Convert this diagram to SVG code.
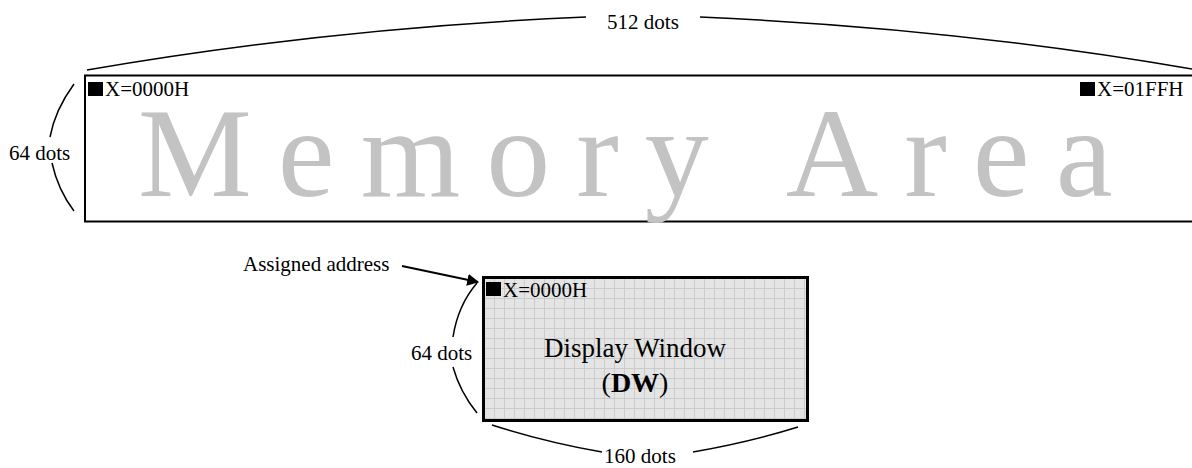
<svg xmlns="http://www.w3.org/2000/svg" width="1192" height="468" viewBox="0 0 1192 468">
<style>
.lbl{font-family:"Liberation Serif","Times New Roman",serif;font-size:21px;fill:#000}
.br{fill:none;stroke:#000;stroke-width:1.5}
</style>
<defs>
<pattern id="grid" x="484" y="278" width="10" height="10" patternUnits="userSpaceOnUse">
<rect width="10" height="10" fill="#e4e4e4"/>
<path d="M0 0.5H10M0.5 0V10" stroke="#cbcbcb" stroke-width="1" fill="none"/>
</pattern>
<marker id="ah" viewBox="0 0 10 10" refX="9" refY="5" markerWidth="6" markerHeight="6" orient="auto" markerUnits="strokeWidth">
<path d="M0 0L10 5L0 10z" fill="#000"/>
</marker>
</defs>
<rect width="1192" height="468" fill="#fff"/>
<g id="memory-area">
<rect x="85" y="75.5" width="1130" height="146" fill="#fff" stroke="#000" stroke-width="2"/>
<text x="138" y="196" font-family="Liberation Serif,'Times New Roman',serif" font-size="128" fill="#c3c3c3" letter-spacing="26">Memory Area</text>
<rect x="88" y="82" width="15" height="14" fill="#000"/>
<text class="lbl" x="105" y="96">X=0000H</text>
<rect x="1080" y="82" width="15" height="14" fill="#000"/>
<text class="lbl" x="1097" y="96">X=01FFH</text>
</g>
<g id="display-window">
<rect x="483.5" y="277.5" width="324" height="143" fill="url(#grid)" stroke="#000" stroke-width="3"/>
<rect x="486" y="282" width="15" height="14" fill="#000"/>
<text class="lbl" x="503" y="297">X=0000H</text>
<text x="635" y="357" text-anchor="middle" font-family="Liberation Serif,'Times New Roman',serif" font-size="27">Display Window</text>
<text x="635" y="392" text-anchor="middle" font-family="Liberation Serif,'Times New Roman',serif" font-size="28">(<tspan font-weight="bold">DW</tspan>)</text>
</g>
<g id="labels">
<text class="lbl" x="643" y="29" text-anchor="middle">512 dots</text>
<text class="lbl" x="9" y="160">64 dots</text>
<text class="lbl" x="411" y="360">64 dots</text>
<text class="lbl" x="640" y="463" text-anchor="middle">160 dots</text>
<text class="lbl" x="243" y="271">Assigned address</text>
</g>
<g id="connectors">
<path class="br" d="M87 70 Q330 28 586 17"/>
<path class="br" d="M700 17 Q955 28 1192 69"/>
<path class="br" d="M74 84 Q55 110 50 137"/>
<path class="br" d="M52 163 Q58 190 74 211"/>
<path class="br" d="M477 283 Q458 305 453 337"/>
<path class="br" d="M453 367 Q460 392 477 413"/>
<path class="br" d="M492 425 Q545 442 602 452"/>
<path class="br" d="M693 452 Q750 442 798 427"/>
<path d="M402 266 L478 282" fill="none" stroke="#000" stroke-width="2" marker-end="url(#ah)"/>
</g>
</svg>
